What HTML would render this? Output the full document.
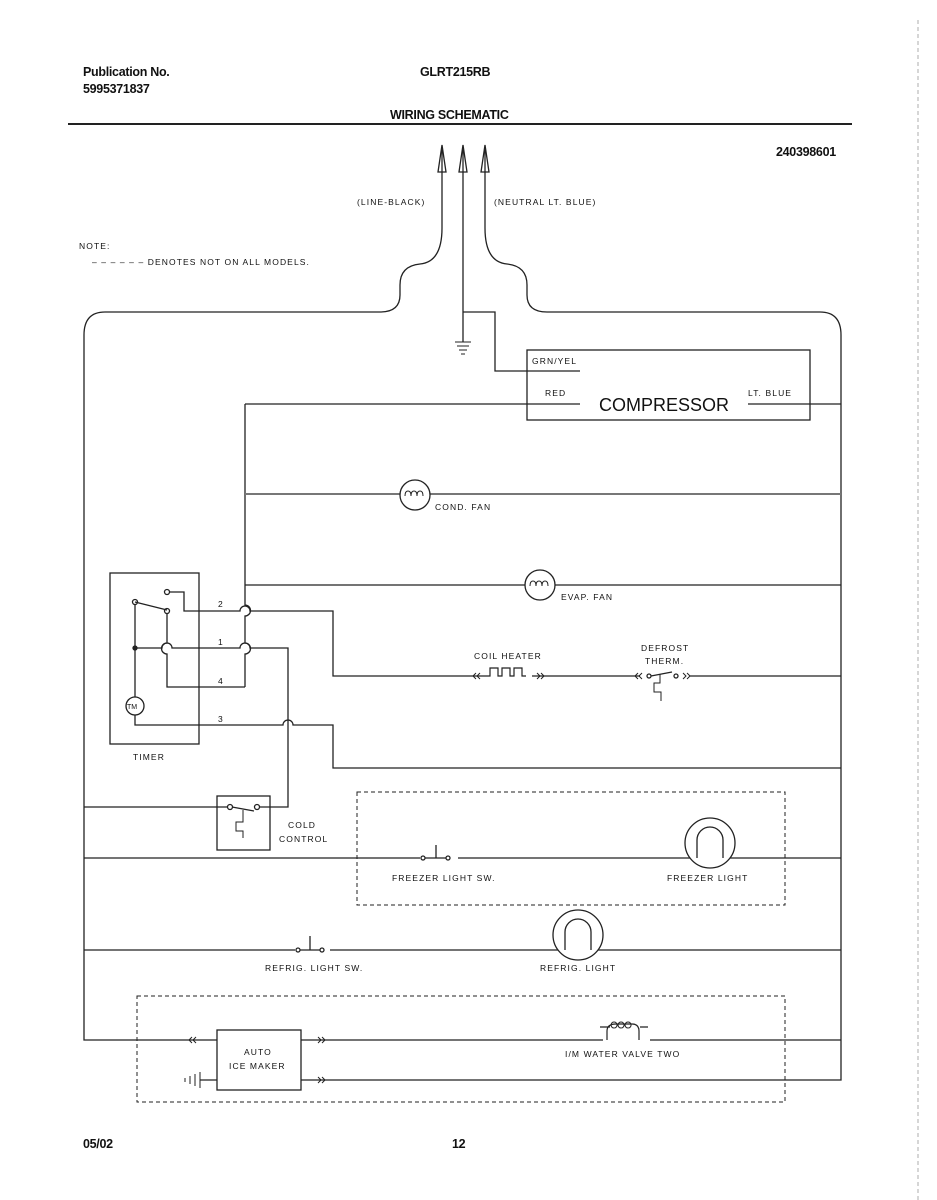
<!DOCTYPE html>
<html><head><meta charset="utf-8"><style>
html,body{margin:0;padding:0;background:#fff;}
svg{display:block;}
text{font-family:"Liberation Sans",sans-serif;fill:#111;}
.s{font-size:8.5px;letter-spacing:1.1px;}
.b{font-weight:bold;font-size:12.5px;letter-spacing:-0.3px;}
</style></head><body>
<svg width="937" height="1200" viewBox="0 0 937 1200" xmlns="http://www.w3.org/2000/svg">
<g fill="none" stroke="#222" stroke-width="1.3">
<line x1="68" y1="124" x2="852" y2="124" stroke-width="2"/>
<line x1="918" y1="20" x2="918" y2="1200" stroke="#999" stroke-width="0.8" stroke-dasharray="4,3"/>
<path d="M442,150 V228 Q442,262 420,264 Q400,266 400,285 V295 Q400,312 380,312 H105 Q84,312 84,335 V1040 H217"/>
<path d="M485,150 V228 Q485,262 507,264 Q527,266 527,285 V295 Q527,312 547,312 H820 Q841,312 841,335 V1080 H301"/>
<line x1="463" y1="150" x2="463" y2="342"/>
<path d="M455,342 H471 M457,346 H469 M459,350 H467 M461,354 H465" stroke-width="1"/>
<path d="M463,312 H495 V371 H580"/>
<path d="M438,172 L442,145 L446,172 Z M459,172 L463,145 L467,172 Z M481,172 L485,145 L489,172 Z" fill="#fff"/>
<line x1="442" y1="150" x2="442" y2="172"/><line x1="463" y1="150" x2="463" y2="172"/><line x1="485" y1="150" x2="485" y2="172"/>
<rect x="527" y="350" width="283" height="70"/>
<line x1="245" y1="404" x2="580" y2="404"/>
<line x1="748" y1="404" x2="841" y2="404"/>
<path d="M245,404 V605 A5,5 0 0 1 245,616 V643 A5,5 0 0 1 245,654 V687"/>
<line x1="245" y1="494" x2="841" y2="494" stroke="#777" stroke-width="2"/>
<circle cx="415" cy="495" r="15" fill="#fff"/>
<path d="M405,496 q0,-5 3,-5 t3,5 q0,-5 3,-5 t3,5 q0,-5 3,-5 t3,5" stroke-width="1"/>
<line x1="245" y1="585" x2="841" y2="585"/>
<circle cx="540" cy="585" r="15" fill="#fff"/>
<path d="M530,586 q0,-5 3,-5 t3,5 q0,-5 3,-5 t3,5 q0,-5 3,-5 t3,5" stroke-width="1"/>
<rect x="110" y="573" width="89" height="171"/>
<circle cx="167" cy="592" r="2.5" fill="#fff"/>
<circle cx="135" cy="602" r="2.5" fill="#fff"/>
<circle cx="167" cy="611" r="2.5" fill="#fff"/>
<line x1="135" y1="602" x2="167" y2="610"/>
<path d="M170,592 H184 V611 H240 A5,5 0 0 1 250,611 H333 V676 H841"/>
<path d="M135,604 V697"/>
<circle cx="135" cy="648" r="2" fill="#222"/>
<circle cx="135" cy="706" r="9" fill="#fff"/>
<path d="M135,715 V725 H283 A5,5 0 0 1 293,725 H333 V768 H841"/>
<path d="M167,614 V643 A5,5 0 0 0 167,654 V687 H245"/>
<path d="M135,648 H162 A5,5 0 0 1 172,648 H240 A5,5 0 0 1 250,648 H288 V807 H260"/>
<rect x="217" y="796" width="53" height="54"/>
<line x1="84" y1="807" x2="228" y2="807"/>
<circle cx="230" cy="807" r="2.5" fill="#fff"/>
<circle cx="257" cy="807" r="2.5" fill="#fff"/>
<line x1="232" y1="807" x2="254" y2="811"/>
<path d="M243,810 V822 H236 V831 H243 V838" stroke-width="1"/>
<line x1="484" y1="676" x2="532" y2="676" stroke="#fff" stroke-width="3"/>
<path d="M476,673 l-3,3 3,3 M480,673 l-3,3 3,3 M537,673 l3,3 -3,3 M541,673 l3,3 -3,3" stroke-width="1"/>
<path d="M484,676 h6 v-8 h8 v8 h4 v-8 h8 v8 h4 v-8 h8 v8 h4" stroke-width="1.2"/>
<line x1="640" y1="676" x2="690" y2="676" stroke="#fff" stroke-width="3"/>
<path d="M638,673 l-3,3 3,3 M642,673 l-3,3 3,3 M683,673 l3,3 -3,3 M687,673 l3,3 -3,3" stroke-width="1"/>
<circle cx="649" cy="676" r="2" fill="#fff"/>
<circle cx="676" cy="676" r="2" fill="#fff"/>
<line x1="651" y1="676" x2="672" y2="672"/>
<path d="M660,674 V683 H654 V692 H661 V701" stroke-width="1"/>
<rect x="357" y="792" width="428" height="113" stroke-dasharray="4,3" stroke-width="1"/>
<line x1="84" y1="858" x2="841" y2="858"/>
<line x1="420" y1="858" x2="458" y2="858" stroke="#fff" stroke-width="3"/>
<circle cx="423" cy="858" r="2" fill="#fff"/>
<circle cx="448" cy="858" r="2" fill="#fff"/>
<line x1="425" y1="858" x2="446" y2="858"/>
<line x1="436" y1="845" x2="436" y2="858"/>
<circle cx="710" cy="843" r="25" fill="#fff"/>
<path d="M697,858 V840 A13,13 0 0 1 723,840 V858"/>
<line x1="84" y1="950" x2="841" y2="950"/>
<line x1="295" y1="950" x2="330" y2="950" stroke="#fff" stroke-width="3"/>
<circle cx="298" cy="950" r="2" fill="#fff"/>
<circle cx="322" cy="950" r="2" fill="#fff"/>
<line x1="300" y1="950" x2="320" y2="950"/>
<line x1="310" y1="936" x2="310" y2="950"/>
<circle cx="578" cy="935" r="25" fill="#fff"/>
<path d="M565,950 V932 A13,13 0 0 1 591,932 V950"/>
<rect x="137" y="996" width="648" height="106" stroke-dasharray="4,3" stroke-width="1"/>
<rect x="217" y="1030" width="84" height="60" fill="#fff"/>
<line x1="301" y1="1040" x2="841" y2="1040"/>
<path d="M192,1037 l-3,3 3,3 M196,1037 l-3,3 3,3 M318,1037 l3,3 -3,3 M322,1037 l3,3 -3,3 M318,1077 l3,3 -3,3 M322,1077 l3,3 -3,3" stroke-width="1"/>
<line x1="200" y1="1080" x2="217" y2="1080"/>
<path d="M200,1072 V1088 M195,1074 V1086 M190,1076 V1084 M185,1078 V1082" stroke-width="1"/>
<line x1="603" y1="1040" x2="650" y2="1040" stroke="#fff" stroke-width="3"/>
<path d="M600,1027 H610 M640,1027 H648 M607,1040 V1031 Q607,1024 616,1024 H632 Q639,1024 639,1031 V1040" stroke-width="1.2"/>
<path d="M614,1028 a3,3 0 1 1 0.1,0 M621,1028 a3,3 0 1 1 0.1,0 M628,1028 a3,3 0 1 1 0.1,0" stroke-width="1"/>
</g>
<text class="b" x="83" y="76">Publication No.</text>
<text class="b" x="83" y="93">5995371837</text>
<text class="b" x="420" y="76">GLRT215RB</text>
<text class="b" x="390" y="119">WIRING SCHEMATIC</text>
<text class="b" x="776" y="156">240398601</text>
<text class="b" x="83" y="1148">05/02</text>
<text class="b" x="452" y="1148">12</text>
<text class="s" x="357" y="205">(LINE-BLACK)</text>
<text class="s" x="494" y="205">(NEUTRAL LT. BLUE)</text>
<text class="s" x="79" y="249">NOTE:</text>
<text class="s" x="92" y="265">– – – – – – DENOTES NOT ON ALL MODELS.</text>
<text class="s" x="532" y="364">GRN/YEL</text>
<text class="s" x="545" y="396">RED</text>
<text x="599" y="411" style="font-size:18px;">COMPRESSOR</text>
<text class="s" x="748" y="396">LT. BLUE</text>
<text class="s" x="435" y="510">COND. FAN</text>
<text class="s" x="561" y="600">EVAP. FAN</text>
<text class="s" x="218" y="607">2</text>
<text class="s" x="218" y="645">1</text>
<text class="s" x="218" y="684">4</text>
<text class="s" x="218" y="722">3</text>
<text x="127" y="709" style="font-size:7px;">TM</text>
<text class="s" x="133" y="760">TIMER</text>
<text class="s" x="474" y="659">COIL HEATER</text>
<text class="s" x="641" y="651">DEFROST</text>
<text class="s" x="645" y="664">THERM.</text>
<text class="s" x="288" y="828">COLD</text>
<text class="s" x="279" y="842">CONTROL</text>
<text class="s" x="392" y="881">FREEZER LIGHT SW.</text>
<text class="s" x="667" y="881">FREEZER LIGHT</text>
<text class="s" x="265" y="971">REFRIG. LIGHT SW.</text>
<text class="s" x="540" y="971">REFRIG. LIGHT</text>
<text class="s" x="244" y="1055">AUTO</text>
<text class="s" x="229" y="1069">ICE MAKER</text>
<text class="s" x="565" y="1057">I/M WATER VALVE TWO</text>
</svg>
</body></html>
